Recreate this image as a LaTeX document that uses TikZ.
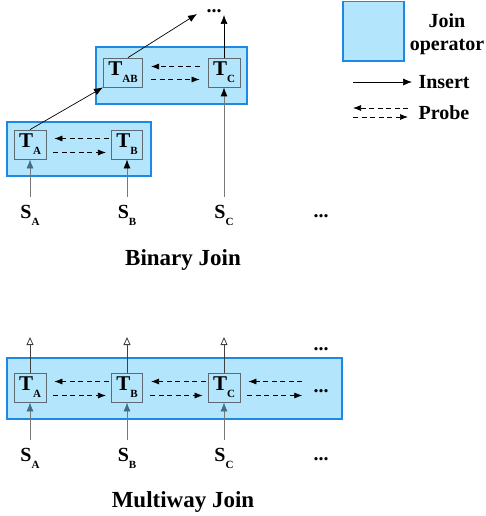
\documentclass[tikz,border=0pt]{standalone}
\usepackage{fontspec}
\setmainfont{Liberation Serif}
\usetikzlibrary{arrows.meta, positioning}
\definecolor{opfill}{HTML}{B3E5FC}
\definecolor{opline}{HTML}{1E88E5}
\definecolor{tline}{HTML}{5F6B70}
\definecolor{feedgray}{HTML}{787878}
\definecolor{tipblue}{HTML}{3F6F88}

\newcommand{\Tsub}[1]{T\raisebox{-7pt}{\fontsize{11}{11}\selectfont #1}}
\newcommand{\Ssub}[1]{S\raisebox{-7pt}{\fontsize{11}{11}\selectfont #1}}

\tikzset{
  joinop/.style={draw=opline, line width=1.5pt, fill=opfill},
  tbox/.style={draw=tline, line width=0.8pt, fill=opfill, minimum width=26pt,
    minimum height=29pt, inner xsep=5pt, inner ysep=0pt,
    font=\fontsize{21}{21}\selectfont\bfseries},
  slabel/.style={inner sep=0pt, outer ysep=8pt, anchor=base,
    font=\fontsize{20}{20}\selectfont\bfseries},
  dots/.style={inner sep=0pt, font=\fontsize{20}{20}\selectfont\bfseries},
  title/.style={anchor=base, font=\fontsize{23}{23}\selectfont\bfseries},
  legend/.style={align=center, font=\fontsize{20}{23}\selectfont\bfseries},
  insert/.style={draw=black, line width=0.7pt, -{Latex[length=9pt,width=7pt]}},
  probe/.style={draw=black, line width=0.7pt, dash pattern=on 5pt off 3.5pt,
    -{Latex[length=8pt,width=6pt]}},
  feed/.style={draw=feedgray, line width=0.8pt, -{Latex[length=9pt,width=7pt,color=#1]}},
  feed/.default=black,
  emit/.style={draw=black!75, line width=0.8pt, -{Triangle[open,length=8pt,width=7pt]}}
}

\begin{document}
\begin{tikzpicture}[x=1pt, y=-1pt]
  \useasboundingbox (0,0) rectangle (485,516);

  % binary join
  \draw[joinop] (7,122) rectangle (151,176);
  \draw[joinop] (96,47) rectangle (247,104);

  \node[tbox] (ta) at (30,144.5) {\Tsub{A}};
  \node[tbox] (tb) at (127,144.5) {\Tsub{B}};
  \node[tbox] (tab) at (123,72.5) {\Tsub{AB}};
  \node[tbox] (tc) at (224,72.5) {\Tsub{C}};

  \node[dots] (topdots) at (214,11) {...};
  \coordinate (about) at (197,14);
  \coordinate (cout) at (224,15);

  \node[slabel] (sa) at (30,218) {\Ssub{A}};
  \node[slabel] (sb) at (127,218) {\Ssub{B}};
  \node[slabel] (sc) at (224,218) {\Ssub{C}};
  \node[dots] (sdots) at (321,216) {...};

  \draw[probe, shorten <=2pt, shorten >=8pt] ([yshift=6pt]tb.west) -- ([yshift=6pt]ta.east);
  \draw[probe, shorten <=7pt, shorten >=5pt] ([yshift=-8pt]ta.east) -- ([yshift=-8pt]tb.west);
  \draw[probe, shorten <=8pt, shorten >=8pt] ([yshift=6pt]tc.west) -- ([yshift=6pt]tab.east);
  \draw[probe, shorten <=8pt, shorten >=8pt] ([yshift=-7pt]tab.east) -- ([yshift=-7pt]tc.west);

  \draw[insert] (ta.north) -- (tab.south west);
  \draw[insert] ([xshift=5pt]tab.north) -- (about);
  \draw[insert] (tc.north) -- (cout);

  \draw[feed=tipblue] (sa.north) -- (ta.south);
  \draw[feed] (sb.north) -- (tb.south);
  \draw[feed] (sc.north) -- (tc.south);

  \node[title] (bintitle) at (183,265) {Binary Join};

  % multiway join
  \draw[joinop] (7,358) rectangle (342,419);

  \node[tbox] (ma) at (30,387.5) {\Tsub{A}};
  \node[tbox] (mb) at (127,387.5) {\Tsub{B}};
  \node[tbox] (mc) at (224,387.5) {\Tsub{C}};
  \node[dots] (mdots) at (321,391) {...};
  \node[dots] (updots) at (321,349) {...};

  \coordinate (aout) at (30,337);
  \coordinate (bout) at (127,337);
  \coordinate (mcout) at (224,337);

  \node[slabel] (msa) at (30,461) {\Ssub{A}};
  \node[slabel] (msb) at (127,461) {\Ssub{B}};
  \node[slabel] (msc) at (224,461) {\Ssub{C}};
  \node[dots] (lowdots) at (321,459) {...};

  \draw[probe, shorten <=2pt, shorten >=8pt] ([yshift=6pt]mb.west) -- ([yshift=6pt]ma.east);
  \draw[probe, shorten <=7pt, shorten >=5pt] ([yshift=-8pt]ma.east) -- ([yshift=-8pt]mb.west);
  \draw[probe, shorten <=2pt, shorten >=8pt] ([yshift=6pt]mc.west) -- ([yshift=6pt]mb.east);
  \draw[probe, shorten <=7pt, shorten >=5pt] ([yshift=-8pt]mb.east) -- ([yshift=-8pt]mc.west);
  \draw[probe, shorten <=11pt, shorten >=8pt] ([yshift=6pt]mc.east -| mdots.west) -- ([yshift=6pt]mc.east);
  \draw[probe, shorten <=7pt, shorten >=11pt] ([yshift=-8pt]mc.east) -- ([yshift=-8pt]mc.east -| mdots.west);

  \draw[emit] (ma.north) -- (aout);
  \draw[emit] (mb.north) -- (bout);
  \draw[emit] (mc.north) -- (mcout);

  \draw[feed=tipblue] (msa.north) -- (ma.south);
  \draw[feed=tipblue] (msb.north) -- (mb.south);
  \draw[feed=tipblue] (msc.north) -- (mc.south);

  \node[title] (multititle) at (183,507) {Multiway Join};

  % legend
  \draw[joinop] (343,1.5) rectangle (404,61);
  \node[legend] (oplabel) at (447,34) {Join\\operator};

  \node[legend, anchor=west] (instext) at (415,82) {Insert};
  \coordinate (insfrom) at (353,82);
  \draw[insert, shorten >=3pt] (insfrom) -- (instext.west);

  \node[legend, anchor=west] (probetext) at (415,113) {Probe};
  \coordinate (probefrom) at (353,108);
  \coordinate (probeto) at (353,117);
  \draw[probe, shorten <=7pt] ([yshift=5pt]probetext.west) -- (probefrom);
  \draw[probe, shorten >=7pt] (probeto) -- ([yshift=-4pt]probetext.west);
\end{tikzpicture}
\end{document}
